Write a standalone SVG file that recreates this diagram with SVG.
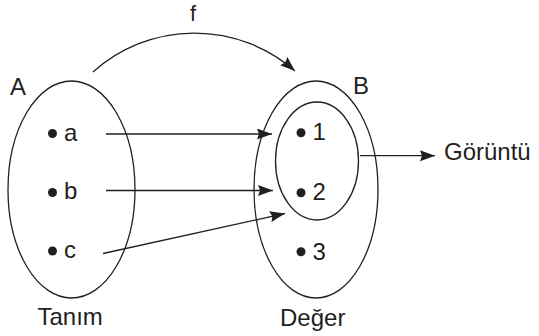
<svg xmlns="http://www.w3.org/2000/svg" width="539" height="336" viewBox="0 0 539 336">
<style>
text{font-family:"Liberation Sans",Arial,sans-serif;font-size:24px;fill:#231f20}
.set{fill:none;stroke:#231f20;stroke-width:1.3}
.dot{fill:#231f20}
.con{fill:none;stroke:#231f20;stroke-width:1.3;marker-end:url(#ah)}
</style>
<defs>
<marker id="ah" markerUnits="userSpaceOnUse" markerWidth="16" markerHeight="12" refX="15" refY="5.5" orient="auto">
<path d="M0,0 L15,5.5 L0,11 L2,5.5 z" fill="#231f20"/>
</marker>
</defs>
<rect width="539" height="336" fill="#fff"/>
<g id="setA">
<ellipse class="set" cx="71.5" cy="189.5" rx="63.5" ry="108.5"/>
<text x="10" y="95">A</text>
<text x="37.5" y="325">Tanım</text>
</g>
<g id="setB">
<ellipse class="set" cx="316" cy="189.5" rx="62" ry="108.5"/>
<text x="353" y="94">B</text>
<text x="280" y="325.5">Değer</text>
</g>
<g id="image">
<ellipse class="set" cx="317" cy="161" rx="41.5" ry="59"/>
</g>
<g id="a"><circle class="dot" cx="52.5" cy="133.5" r="4.5"/><text x="64" y="140.5">a</text></g>
<g id="b"><circle class="dot" cx="52.5" cy="192.5" r="4.5"/><text x="64" y="199">b</text></g>
<g id="c"><circle class="dot" cx="52.5" cy="251" r="4.5"/><text x="64" y="257.5">c</text></g>
<g id="n1"><circle class="dot" cx="301" cy="132.7" r="4.5"/><text x="312.5" y="139.5">1</text></g>
<g id="n2"><circle class="dot" cx="301" cy="192.7" r="4.5"/><text x="312.5" y="200">2</text></g>
<g id="n3"><circle class="dot" cx="301" cy="251.7" r="4.5"/><text x="312.5" y="260">3</text></g>
<g id="goruntu"><text x="444" y="160">Görüntü</text></g>
<g id="connectors">
<path class="con" d="M93,72 A152,152 0 0 1 295,71"/>
<text x="190" y="21" style="font-size:22px">f</text>
<line class="con" x1="106" y1="134" x2="272" y2="134"/>
<line class="con" x1="106" y1="190.5" x2="273" y2="190.5"/>
<line class="con" x1="103" y1="253.5" x2="285" y2="213.5"/>
<line class="con" x1="360" y1="155.7" x2="435" y2="155.7"/>
</g>
</svg>
